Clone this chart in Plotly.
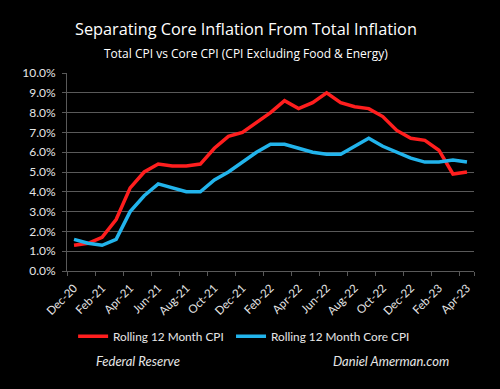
import plotly.graph_objects as go

months = ["Dec-20", "Jan-21", "Feb-21", "Mar-21", "Apr-21", "May-21", "Jun-21", "Jul-21",
          "Aug-21", "Sep-21", "Oct-21", "Nov-21", "Dec-21", "Jan-22", "Feb-22", "Mar-22",
          "Apr-22", "May-22", "Jun-22", "Jul-22", "Aug-22", "Sep-22", "Oct-22", "Nov-22",
          "Dec-22", "Jan-23", "Feb-23", "Mar-23", "Apr-23"]
cpi = [1.3, 1.4, 1.7, 2.6, 4.2, 5.0, 5.4, 5.3, 5.3, 5.4, 6.2, 6.8, 7.0, 7.5, 8.0, 8.6,
       8.2, 8.5, 9.0, 8.5, 8.3, 8.2, 7.8, 7.1, 6.7, 6.6, 6.1, 4.9, 5.0]
core_cpi = [1.6, 1.4, 1.3, 1.6, 3.0, 3.8, 4.4, 4.2, 4.0, 4.0, 4.6, 5.0, 5.5, 6.0, 6.4, 6.4,
            6.2, 6.0, 5.9, 5.9, 6.3, 6.7, 6.3, 6.0, 5.7, 5.5, 5.5, 5.6, 5.5]
y_ticks = [0, 1, 2, 3, 4, 5, 6, 7, 8, 9, 10]
y_tick_labels = ["0.0%", "1.0%", "2.0%", "3.0%", "4.0%", "5.0%", "6.0%", "7.0%",
                 "8.0%", "9.0%", "10.0%"]

idx = list(range(len(months)))
label_idx = idx[::2]
label_txt = months[::2]
boundaries = [i - 0.5 for i in idx[::2]] + [len(months) - 0.5]

RED = "#FF1E1E"
BLUE = "#22B4EC"
GRID = "#595959"
TXT = "#E6E6E6"
FONT = "Lato"

fig = go.Figure()
fig.add_trace(go.Scatter(x=idx, y=cpi, mode="lines", name="Rolling 12 Month CPI",
                         line=dict(color=RED, width=3.5), legend="legend", showlegend=True))
fig.add_trace(go.Scatter(x=idx, y=core_cpi, mode="lines", name="Rolling 12 Month Core CPI",
                         line=dict(color=BLUE, width=3.5), legend="legend2", showlegend=True))

fig.update_layout(
    width=500, height=389, showlegend=True,
    paper_bgcolor="black", plot_bgcolor="black",
    margin=dict(l=67, r=26, t=73, b=118, autoexpand=False),
    font=dict(family=FONT, color=TXT, size=12),
    xaxis=dict(range=[-0.5, len(months) - 0.5], tickvals=label_idx, ticktext=label_txt,
               tickangle=-45, ticks="", showgrid=False, zeroline=False,
               showline=True, linecolor=GRID, linewidth=1, automargin=False,
               ticklabelstandoff=5,
               tickfont=dict(size=11.5, color=TXT),
               minor=dict(tickvals=boundaries, ticks="outside", ticklen=4,
                          tickcolor=GRID, showgrid=False)),
    yaxis=dict(range=[0, 10], tickvals=y_ticks, ticktext=y_tick_labels,
               showgrid=True, gridcolor=GRID, gridwidth=1, zeroline=False, automargin=False,
               showline=True, linecolor=GRID, ticks="outside", ticklen=4,
               ticklabelstandoff=4,
               tickcolor=GRID, tickfont=dict(size=12, color=TXT)),
    legend=dict(x=0.015, y=-0.33, xanchor="left", yanchor="middle",
                bgcolor="rgba(0,0,0,0)", font=dict(size=11.8, color=TXT)),
    legend2=dict(x=0.403, y=-0.33, xanchor="left", yanchor="middle",
                 bgcolor="rgba(0,0,0,0)", font=dict(size=11.8, color=TXT)),
    annotations=[
        dict(text="Separating Core Inflation From Total Inflation", xref="paper", yref="paper",
             x=0.44, y=1.222, showarrow=False, xanchor="center", yanchor="middle",
             font=dict(family="Open Sans", size=16.3, color="white")),
        dict(text="Total CPI vs Core CPI (CPI Excluding Food & Energy)", xref="paper", yref="paper",
             x=0.44, y=1.101, showarrow=False, xanchor="center", yanchor="middle",
             font=dict(family="Open Sans", size=12, color="white")),
        dict(text="<i>Federal Reserve</i>", xref="paper", yref="paper",
             x=0.174, y=-0.4545, showarrow=False, xanchor="center", yanchor="middle",
             font=dict(family=FONT, size=13, color=TXT)),
        dict(text="<i>Daniel Amerman.com</i>", xref="paper", yref="paper",
             x=0.795, y=-0.4545, showarrow=False, xanchor="center", yanchor="middle",
             font=dict(family=FONT, size=13, color=TXT)),
    ],
)

fig.write_html("out.html", config={"displayModeBar": False},
               post_script="document.body.style.margin='0';")
